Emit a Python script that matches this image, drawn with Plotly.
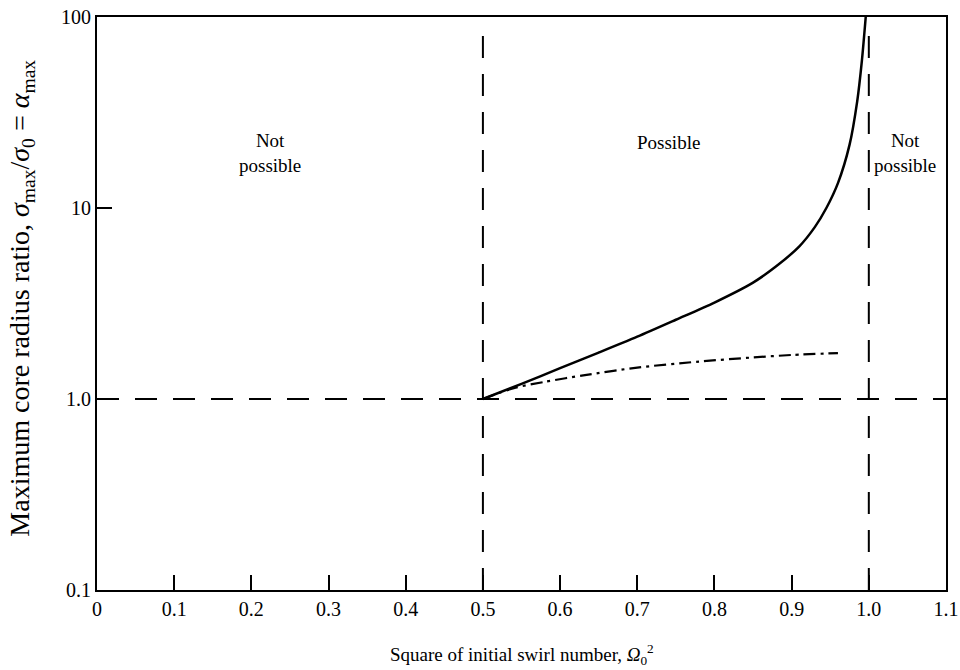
import math
import plotly.graph_objects as go

# Solid curve: maximum core radius ratio vs square of initial swirl number
omega_sq_solid = [0.5, 0.55, 0.6, 0.65, 0.7, 0.75, 0.8, 0.85, 0.88, 0.91, 0.93, 0.945, 0.96, 0.975, 0.985, 0.991, 0.996]
alpha_solid = [1.0, 1.2, 1.45, 1.75, 2.12, 2.6, 3.2, 4.07, 4.95, 6.3, 7.94, 10.0, 13.5, 21.4, 36.3, 58.9, 100.0]

# Dash-dot curve
omega_sq_dd = [0.5, 0.54, 0.58, 0.63, 0.7, 0.78, 0.85, 0.9, 0.96]
alpha_dd = [1.0, 1.14, 1.23, 1.33, 1.46, 1.57, 1.65, 1.70, 1.74]

# Boundaries
x_bounds = [0.5, 1.0]
y_bound = 1.0

x_ticks = [0, 0.1, 0.2, 0.3, 0.4, 0.5, 0.6, 0.7, 0.8, 0.9, 1.0, 1.1]
x_ticktext = ["0", "0.1", "0.2", "0.3", "0.4", "0.5", "0.6", "0.7", "0.8", "0.9", "1.0", "1.1"]
y_ticks = [0.1, 1, 10, 100]
y_ticktext = ["0.1", "1.0", "10", "100"]

region_labels = ["Not<br>possible", "Possible", "Not<br>possible"]
region_x = [0.224, 0.74, 1.047]
region_y = [19.5, 22.0, 19.5]

x_title = "Square of initial swirl number, <i>Ω</i><sub>0</sub><sup>2</sup>"
y_title = "Maximum core radius ratio, <i>σ</i><sub>max</sub>/<i>σ</i><sub>0</sub> = <i>α</i><sub>max</sub>"

FONT = "Liberation Serif, Times New Roman, serif"

fig = go.Figure()

fig.add_trace(go.Scatter(x=omega_sq_solid, y=alpha_solid, mode="lines",
                         line=dict(color="black", width=2.5, shape="spline", smoothing=0.8),
                         showlegend=False, hoverinfo="skip"))
fig.add_trace(go.Scatter(x=omega_sq_dd, y=alpha_dd, mode="lines",
                         line=dict(color="black", width=2.2, dash="12px,5px,3px,5px", shape="spline", smoothing=0.8),
                         showlegend=False, hoverinfo="skip"))

for xb in x_bounds:
    fig.add_shape(type="line", xref="x", yref="paper", x0=xb, x1=xb, y0=0, y1=0.99,
                  line=dict(color="black", width=2, dash="22px,16px"))
fig.add_shape(type="line", xref="paper", yref="y", x0=0, x1=1, y0=y_bound, y1=y_bound,
              line=dict(color="black", width=2, dash="22px,16px"))

for txt, xx, yy in zip(region_labels, region_x, region_y):
    fig.add_annotation(x=xx, y=math.log10(yy), xref="x", yref="y", text=txt, showarrow=False,
                       font=dict(family=FONT, size=19, color="black"), align="center")

fig.add_annotation(x=0.5, y=-0.113, xref="paper", yref="paper", text=x_title, showarrow=False,
                   xanchor="center", yanchor="middle",
                   font=dict(family=FONT, size=19, color="black"))
fig.add_annotation(x=-0.0885, y=0.51, xref="paper", yref="paper", text=y_title, showarrow=False,
                   textangle=-90, xanchor="center", yanchor="middle",
                   font=dict(family=FONT, size=28, color="black"))

fig.update_xaxes(range=[0, 1.1], tickvals=x_ticks, ticktext=x_ticktext,
                 ticks="inside", ticklen=15, tickwidth=2, tickcolor="black",
                 showline=True, linewidth=2, linecolor="black", mirror=True,
                 showgrid=False, zeroline=False, automargin=False,
                 tickfont=dict(family=FONT, size=20, color="black"))
fig.update_yaxes(type="log", range=[-1, 2], tickvals=y_ticks, ticktext=y_ticktext,
                 ticks="inside", ticklen=15, tickwidth=2, tickcolor="black",
                 showline=True, linewidth=2, linecolor="black", mirror=True,
                 showgrid=False, zeroline=False, automargin=False,
                 tickfont=dict(family=FONT, size=20, color="black"))

fig.update_layout(width=960, height=670, margin=dict(l=97, r=14, t=17, b=80),
                  plot_bgcolor="white", paper_bgcolor="white",
                  font=dict(family=FONT, color="black"))

fig.write_html("out.html", config={"displayModeBar": False},
               post_script="document.body.style.margin='0';document.body.style.overflow='hidden';")
